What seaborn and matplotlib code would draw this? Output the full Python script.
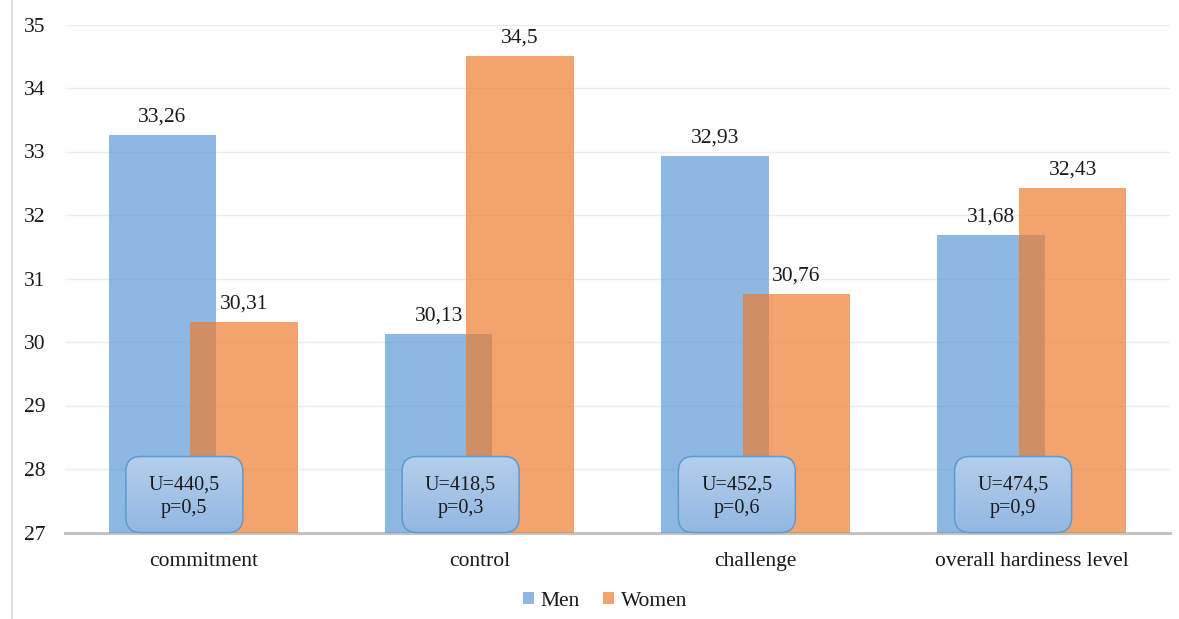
import numpy as np
import pandas as pd
import matplotlib
matplotlib.use("Agg")
import matplotlib.pyplot as plt
from matplotlib.patches import FancyBboxPatch, Patch
from matplotlib.colors import LinearSegmentedColormap
from matplotlib.lines import Line2D
import seaborn as sns

# Hardiness components by sex
categories = ["commitment", "control", "challenge", "overall hardiness level"]
men = [33.26, 30.13, 32.93, 31.68]
women = [30.31, 34.5, 30.76, 32.43]
u_values = ["440,5", "418,5", "452,5", "474,5"]
p_values = ["0,5", "0,3", "0,6", "0,9"]
groups = ["Men", "Women"]

df = pd.DataFrame({
    "component": categories * 2,
    "score": men + women,
    "sex": ["Men"] * len(categories) + ["Women"] * len(categories),
})

sns.set_theme(style="white")
plt.rcParams["font.family"] = ["Liberation Serif", "DejaVu Serif"]
TEXT = "#1a1a1a"
FS = 15.5
FS_BOX = 14.5

fig = plt.figure(figsize=(11.79, 6.19), dpi=100)
W, H = 1179, 619
ax = fig.add_axes([65 / W, 1 - 532.5 / H, (1170 - 65) / W, (532.5 - 24.5) / H])

palette = {"Men": "#5B9BD5", "Women": "#ED7D31"}
sns.barplot(data=df, x="component", y="score", hue="sex", order=categories,
            hue_order=groups, palette=palette, width=0.59, gap=-0.32,
            alpha=0.7, saturation=1, linewidth=0, ax=ax, legend=False, zorder=2)

ax.set_ylim(27, 35)
ax.set_xlim(-0.5, len(categories) - 0.5)
ax.set_yticks(range(27, 36))
ax.set_xlabel("")
ax.set_ylabel("")
ax.yaxis.grid(True, color="#EDEDED", linewidth=1, zorder=0)
ax.set_axisbelow(True)
for side in ["left", "right", "top"]:
    ax.spines[side].set_visible(False)
ax.spines["bottom"].set_color("#BFBFBF")
ax.spines["bottom"].set_linewidth(2)
ax.spines["bottom"].set_zorder(1)
ax.tick_params(axis="both", length=0, labelsize=FS, labelcolor=TEXT)
ax.tick_params(axis="y", pad=14)
ax.tick_params(axis="x", pad=14)

# value labels above each bar
for container, vals in zip(ax.containers, [men, women]):
    ax.bar_label(container, labels=[f"{v:g}".replace(".", ",") for v in vals],
                 padding=6, fontsize=FS, color=TEXT)

# Mann-Whitney boxes with a vertical blue gradient and rounded corners
px_x = ax.bbox.width / len(categories)
px_y = ax.bbox.height / 8
box_w = 117 / px_x
box_h = 76 / px_y
radius = 15 / px_x
grad_cmap = LinearSegmentedColormap.from_list("boxgrad", ["#93B8E2", "#B5CEEC"])
grad = np.linspace(0, 1, 100).reshape(-1, 1)
for i, (u, p) in enumerate(zip(u_values, p_values)):
    cx = i - 0.068
    x0, y0 = cx - box_w / 2, 27.0
    box = FancyBboxPatch((x0, y0), box_w, box_h,
                         boxstyle=f"round,pad=0,rounding_size={radius}",
                         mutation_aspect=px_x / px_y,
                         facecolor="none", edgecolor="#5B9BD5", linewidth=1.1,
                         zorder=5, clip_on=False)
    ax.add_patch(box)
    im = ax.imshow(grad, extent=[x0, x0 + box_w, y0, y0 + box_h], origin="lower",
                   aspect="auto", cmap=grad_cmap, interpolation="bicubic", zorder=4)
    im.set_clip_path(box)
    ax.text(cx, y0 + box_h / 2 - 2 / px_y, f"U={u}\np={p}", ha="center", va="center",
            fontsize=FS_BOX, color=TEXT, linespacing=1.3, zorder=6)

ax.set_xlim(-0.5, len(categories) - 0.5)
ax.set_ylim(27, 35)

handles = [Patch(facecolor=palette[g], alpha=0.7, linewidth=0) for g in groups]
fig.legend(handles, groups, loc="center", bbox_to_anchor=(605 / W, 1 - 601 / H),
           ncol=2, frameon=False, fontsize=FS, handlelength=0.5, handleheight=0.5,
           handletextpad=0.3, columnspacing=1.1, labelcolor=TEXT)

# thin frame line at the left edge
fig.add_artist(Line2D([12 / W, 12 / W], [0, 1], color="#D9D9D9", linewidth=1.2,
                      transform=fig.transFigure))

fig.savefig("out.png", dpi=100)
